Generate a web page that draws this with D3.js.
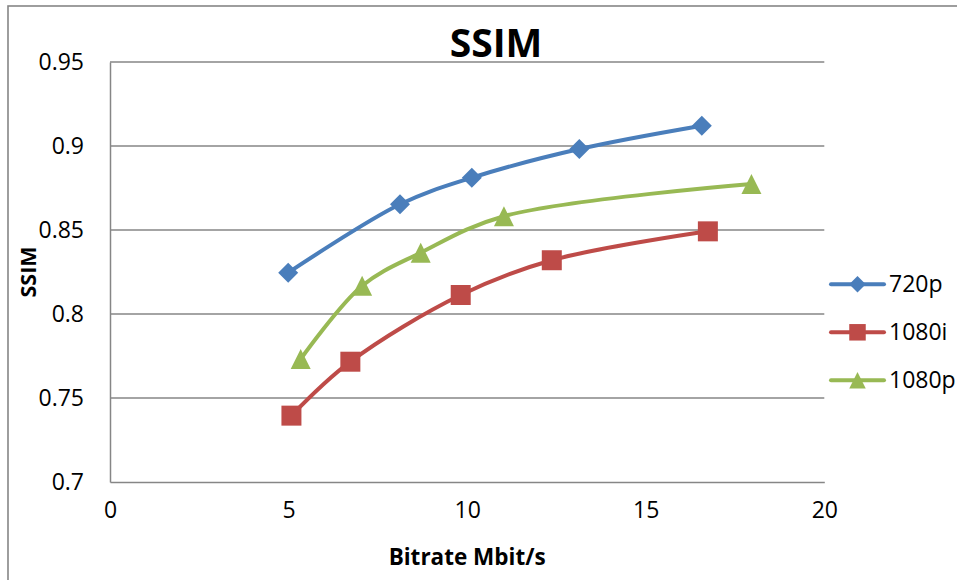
<!DOCTYPE html>
<html>
<head>
<meta charset="utf-8">
<script src="https://cdn.jsdelivr.net/npm/d3@7"></script>
<style>
  html, body { margin: 0; padding: 0; background: #ffffff; }
  svg { display: block; font-family: "Open Sans", "DejaVu Sans", sans-serif; }
</style>
</head>
<body>
<svg id="chart" width="957" height="580"></svg>
<script>
// Series data: bitrate (Mbit/s) vs SSIM
const seriesNames = ["720p", "1080i", "1080p"];
const bitrate720p  = [4.99, 8.12, 10.13, 13.14, 16.57];
const ssim720p     = [0.8246, 0.8653, 0.8811, 0.8982, 0.9121];
const bitrate1080i = [5.08, 6.73, 9.82, 12.37, 16.74];
const ssim1080i    = [0.7395, 0.7716, 0.8113, 0.8320, 0.8492];
const bitrate1080p = [5.34, 7.06, 8.70, 11.03, 17.96];
const ssim1080p    = [0.7732, 0.8168, 0.8365, 0.8582, 0.8774];
const xTicks = [0, 5, 10, 15, 20];
const yTicks = [0.7, 0.75, 0.8, 0.85, 0.9, 0.95];

const colors = { "720p": "#4A7EBB", "1080i": "#BE4B48", "1080p": "#98B954" };
const shapes = { "720p": "diamond", "1080i": "square", "1080p": "triangle" };

const series = [
  { name: "720p",  xs: bitrate720p,  ys: ssim720p },
  { name: "1080i", xs: bitrate1080i, ys: ssim1080i },
  { name: "1080p", xs: bitrate1080p, ys: ssim1080p }
].map(s => ({ name: s.name, points: s.xs.map((x, i) => ({ x, y: s.ys[i] })) }));

const svg = d3.select("#chart");
const plot = { left: 110, top: 62, right: 824.3, bottom: 482 };
const gridColor = "#868686";

const x = d3.scaleLinear().domain([0, 20]).range([plot.left, plot.right]);
const y = d3.scaleLinear().domain([0.7, 0.95]).range([plot.bottom, plot.top]);

// Outer chart frame
svg.append("rect")
  .attr("x", 8).attr("y", 6).attr("width", 1000).attr("height", 1000)
  .attr("fill", "none").attr("stroke", gridColor).attr("stroke-width", 1.6);

// Horizontal gridlines
svg.append("g")
  .selectAll("line")
  .data(yTicks.filter(t => t > 0.7))
  .join("line")
  .attr("x1", plot.left).attr("x2", plot.right)
  .attr("y1", d => y(d)).attr("y2", d => y(d))
  .attr("stroke", gridColor).attr("stroke-width", 1.5);

// Y axis
const yAxis = svg.append("g")
  .attr("transform", `translate(${plot.left},0)`)
  .call(d3.axisLeft(y).tickValues(yTicks).tickSize(0).tickPadding(26)
    .tickFormat(d => d3.format("")(+d.toFixed(2))));
yAxis.select(".domain").attr("stroke", gridColor).attr("stroke-width", 1.5);
yAxis.selectAll("text").attr("font-size", 23).attr("fill", "#000")
  .attr("font-family", "Open Sans");

// X axis
const xAxis = svg.append("g")
  .attr("transform", `translate(0,${plot.bottom})`)
  .call(d3.axisBottom(x).tickValues(xTicks).tickSize(0).tickPadding(20));
xAxis.select(".domain").attr("stroke", gridColor).attr("stroke-width", 1.5);
xAxis.selectAll("text").attr("font-size", 23).attr("fill", "#000")
  .attr("font-family", "Open Sans");

// Titles
svg.append("text")
  .attr("x", 496).attr("y", 57)
  .attr("text-anchor", "middle")
  .attr("font-size", 39).attr("font-weight", "bold")
  .text("SSIM");

svg.append("text")
  .attr("x", (plot.left + plot.right) / 2).attr("y", 565)
  .attr("text-anchor", "middle")
  .attr("font-size", 22.5).attr("font-weight", "bold")
  .text("Bitrate Mbit/s");

svg.append("text")
  .attr("transform", `translate(36,${(plot.top + plot.bottom) / 2}) rotate(-90)`)
  .attr("text-anchor", "middle")
  .attr("font-size", 21.5).attr("font-weight", "bold")
  .text("SSIM");

// Marker path generator, centred on (0,0)
function markerPath(shape, s) {
  const h = s / 2;
  if (shape === "diamond") return `M0,${-h}L${h},0L0,${h}L${-h},0Z`;
  if (shape === "square") return `M${-h},${-h}H${h}V${h}H${-h}Z`;
  return `M0,${-h}L${h},${h}L${-h},${h}Z`;
}

const line = d3.line()
  .x(d => x(d.x)).y(d => y(d.y))
  .curve(d3.curveCatmullRom.alpha(0.5));

const seriesG = svg.append("g")
  .selectAll("g")
  .data(series)
  .join("g");

seriesG.append("path")
  .attr("d", d => line(d.points))
  .attr("fill", "none")
  .attr("stroke", d => colors[d.name])
  .attr("stroke-width", 4)
  .attr("stroke-linejoin", "round")
  .attr("stroke-linecap", "round");

seriesG.each(function (s) {
  d3.select(this).selectAll("path.marker")
    .data(s.points)
    .join("path")
    .attr("class", "marker")
    .attr("transform", d => `translate(${x(d.x)},${y(d.y)})`)
    .attr("d", markerPath(shapes[s.name], 20))
    .attr("fill", colors[s.name]);
});

// Legend
const legendY = d3.scalePoint().domain(seriesNames).range([284.3, 380.3]);
const legend = svg.append("g")
  .selectAll("g")
  .data(seriesNames)
  .join("g")
  .attr("transform", d => `translate(0,${legendY(d)})`);

legend.append("line")
  .attr("x1", 831).attr("x2", 884)
  .attr("stroke", d => colors[d]).attr("stroke-width", 4)
  .attr("stroke-linecap", "round");
legend.append("path")
  .attr("transform", "translate(857.5,0)")
  .attr("d", d => markerPath(shapes[d], 16.5))
  .attr("fill", d => colors[d]);
legend.append("text")
  .attr("x", 889).attr("y", 0).attr("dy", "0.35em")
  .attr("font-size", 23)
  .text(d => d);
</script>
</body>
</html>
